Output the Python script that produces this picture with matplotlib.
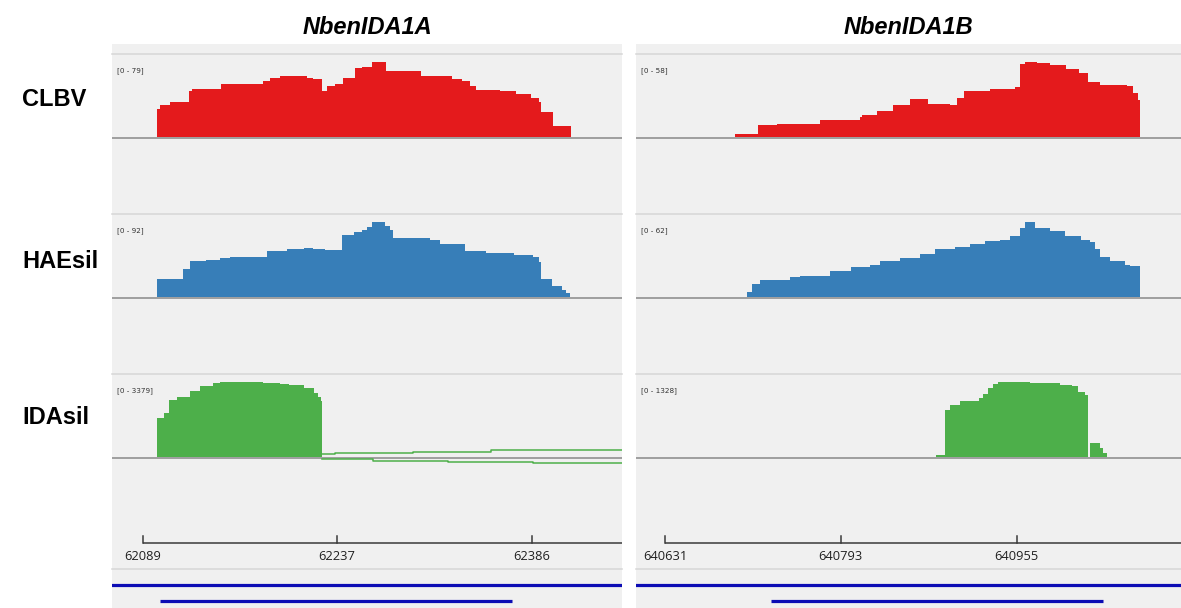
import numpy as np
import matplotlib
matplotlib.use("Agg")
import matplotlib.pyplot as plt
from matplotlib.patches import Rectangle
from matplotlib.lines import Line2D

W, H, DPI = 1181, 608, 100

# ---------------- data ----------------
gene_names = ["NbenIDA1A", "NbenIDA1B"]
sample_names = ["CLBV", "HAEsil", "IDAsil"]
sample_colors = ["#e41a1c", "#377eb8", "#4daf4a"]

# NbenIDA1A locus: coverage step profiles (segment starts, depth), plus end
a_clbv_pos = [62100, 62102, 62110, 62124, 62127, 62149, 62181, 62186, 62194, 62214,
              62219, 62226, 62230, 62236, 62242, 62251, 62256, 62264, 62275, 62301,
              62325, 62333, 62339, 62343, 62362, 62374, 62385, 62391, 62393, 62402]
a_clbv_cov = [29, 33, 36, 48, 50, 55, 58, 62, 64, 62,
              61, 48, 53, 55, 62, 72, 73, 79, 69, 64,
              61, 58, 53, 49, 48, 45, 41, 36, 26, 11]
a_clbv_end = 62416

a_hae_pos = [62100, 62120, 62125, 62137, 62148, 62156, 62163, 62184, 62199, 62212,
             62219, 62228, 62241, 62250, 62256, 62260, 62264, 62266, 62269, 62274,
             62278, 62280, 62308, 62316, 62335, 62351, 62372, 62387, 62391, 62393,
             62401, 62409, 62412]
a_hae_cov = [22, 34, 43, 45, 47, 48, 49, 56, 58, 59,
             58, 57, 75, 79, 81, 85, 91, 92, 91, 86,
             81, 72, 69, 64, 56, 53, 51, 49, 42, 22,
             13, 8, 4]
a_hae_end = 62415

a_ida_pos = [62100, 62105, 62109, 62115, 62125, 62133, 62143, 62148, 62181, 62194,
             62201, 62212, 62220, 62223, 62225]
a_ida_cov = [1757, 1955, 2523, 2703, 2973, 3154, 3307, 3379, 3307, 3275,
             3230, 3081, 2870, 2703, 2478]
a_ida_end = 62226

# IDAsil low-depth reads downstream of the silenced region
a_ida_fwd_pos = [62226, 62236, 62295, 62355]
a_ida_fwd_cov = [120, 180, 225, 300]
a_ida_rev_pos = [62226, 62265, 62322, 62387]
a_ida_rev_cov = [-117, -194, -252, -297]
a_ida_low_end = 62470

# NbenIDA1B locus
b_clbv_pos = [640696, 640717, 640734, 640774, 640811, 640813, 640826, 640841, 640857,
              640873, 640894, 640900, 640907, 640931, 640954, 640958, 640963, 640974,
              640986, 641001, 641013, 641021, 641032, 641057, 641062, 641067]
b_clbv_cov = [2, 9, 10, 13, 15, 17, 20, 24, 29,
              25, 24, 30, 35, 37, 38, 56, 58, 57,
              55, 52, 49, 42, 40, 39, 34, 28]
b_clbv_end = 641069

b_hae_pos = [640707, 640711, 640719, 640746, 640755, 640783, 640802, 640820, 640829,
             640848, 640866, 640880, 640898, 640912, 640926, 640940, 640949, 640958,
             640963, 640972, 640986, 641000, 641014, 641023, 641027, 641032, 641041,
             641055, 641060]
b_hae_cov = [4, 10, 14, 16, 17, 21, 24, 26, 29,
             32, 35, 39, 41, 43, 46, 47, 50, 57,
             62, 57, 54, 50, 47, 45, 39, 33, 29,
             26, 25]
b_hae_end = 641069

b_ida_pos = [640881, 640889, 640894, 640903, 640920, 640924, 640929, 640933, 640938,
             640967, 640995, 641006, 641012, 641018, 641021, 641023, 641032, 641035]
b_ida_cov = [27, 829, 919, 978, 1040, 1099, 1220, 1279, 1328,
             1297, 1270, 1249, 1141, 1087, 0, 240, 144, 70]
b_ida_end = 641038

# data range shown on each track
a_ranges = [79, 92, 3379]
b_ranges = [58, 62, 1328]

# ruler ticks
a_ticks = [62089, 62237, 62386]
b_ticks = [640631, 640793, 640955]

# visible window
a_view = (62065.6, 62454.7)
b_view = (640604.3, 641106.6)

# gene annotation: locus span and transcript span
a_locus = (61900, 62600)
a_transcript = (62102, 62371)
b_locus = (640400, 641300)
b_transcript = (640729, 641035)

# ---------------- figure ----------------
fig = plt.figure(figsize=(W / DPI, H / DPI), dpi=DPI, facecolor="white")


def px_axes(x0, y0, x1, y1):
    return fig.add_axes([x0 / W, 1 - y1 / H, (x1 - x0) / W, (y1 - y0) / H])


def fx(x):
    return x / W


def fy(y):
    return 1 - y / H


BG = "#f0f0f0"
SEP = "#d6d6d6"
BASE = "#9e9e9e"

panels = [
    dict(x0=112, x1=622, view=a_view, ticks=a_ticks, ranges=a_ranges,
         tracks=[(a_clbv_pos, a_clbv_cov, a_clbv_end),
                 (a_hae_pos, a_hae_cov, a_hae_end),
                 (a_ida_pos, a_ida_cov, a_ida_end)],
         locus=a_locus, transcript=a_transcript, title=gene_names[0], low=True),
    dict(x0=636, x1=1181, view=b_view, ticks=b_ticks, ranges=b_ranges,
         tracks=[(b_clbv_pos, b_clbv_cov, b_clbv_end),
                 (b_hae_pos, b_hae_cov, b_hae_end),
                 (b_ida_pos, b_ida_cov, b_ida_end)],
         locus=b_locus, transcript=b_transcript, title=gene_names[1], low=False),
]

track_tops = [54, 214, 374]
PEAK_PX = 75.0      # pixel height of the autoscaled maximum
ABOVE_PX = 80.0     # track axes height above baseline
BELOW_PX = 12.0     # room below baseline

for p in panels:
    x0, x1 = p["x0"], p["x1"]
    fig.add_artist(Rectangle((fx(x0), fy(608)), fx(x1 - x0), (608 - 44) / H,
                             transform=fig.transFigure, facecolor=BG,
                             edgecolor="none", zorder=0))
    for ys in track_tops + [569]:
        fig.add_artist(Line2D([fx(x0), fx(x1)], [fy(ys), fy(ys)],
                              transform=fig.transFigure, color=SEP, lw=1.1,
                              zorder=1))

    fig.text(fx((x0 + x1) / 2), fy(28), p["title"], ha="center", va="center",
             family="Liberation Sans", style="italic", weight="bold",
             fontsize=17)

    for i, (pos, cov, end) in enumerate(p["tracks"]):
        base = track_tops[i] + 82.5
        ax = px_axes(x0, base - ABOVE_PX, x1, base + BELOW_PX)
        ax.set_axis_off()
        r = p["ranges"][i]
        unit = r / PEAK_PX
        ax.set_xlim(*p["view"])
        ax.set_ylim(-BELOW_PX * unit, ABOVE_PX * unit)
        xs = np.append(np.asarray(pos, float), end)
        ys = np.append(np.asarray(cov, float), 0.0)
        ax.fill_between(xs, ys, 0, step="post", color=sample_colors[i],
                        lw=0, zorder=2)
        ax.axhline(-1.1 * unit, color=BASE, lw=1.4, zorder=1)
        if i == 2 and p["low"]:
            for lp, lc in ((a_ida_fwd_pos, a_ida_fwd_cov),
                           (a_ida_rev_pos, a_ida_rev_cov)):
                lx = np.append(np.asarray(lp, float), a_ida_low_end)
                ly = np.append(np.asarray(lc, float), lc[-1])
                ax.step(lx, ly, where="post", color=sample_colors[i],
                        lw=1.1, zorder=3)
        fig.text(fx(x0 + 5), fy(track_tops[i] + 17), f"[0 - {r}]",
                 ha="left", va="center", fontsize=5.2, color="#333333",
                 family="DejaVu Sans")

    # ruler
    rax = px_axes(x0, 536, x1, 543)
    rax.set_axis_off()
    rax.set_xlim(*p["view"])
    rax.set_ylim(0, 1)
    t = p["ticks"]
    rax.plot([t[0], p["view"][1]], [0, 0], color="#3a3a3a", lw=1.1,
             clip_on=False, solid_capstyle="butt")
    for tv in t:
        rax.plot([tv, tv], [0, 1], color="#3a3a3a", lw=1.1, clip_on=False)
        rax.text(tv, -1.95, f"{tv}", ha="center", va="center",
                 fontsize=9.3, family="Open Sans", color="#202020",
                 clip_on=False)

    # gene annotation
    gax = px_axes(x0, 575, x1, 608)
    gax.set_axis_off()
    gax.set_xlim(*p["view"])
    gax.set_ylim(33, 0)
    gax.plot(p["locus"], [10, 10], color="#0c0cb4", lw=2.3,
             solid_capstyle="butt")
    gax.plot(p["transcript"], [26, 26], color="#0c0cb4", lw=2.3,
             solid_capstyle="butt")

# sample labels
for name, yc in zip(sample_names, [100, 262, 418]):
    fig.text(fx(22), fy(yc), name, ha="left", va="center",
             family="Liberation Sans", weight="bold", fontsize=17)

fig.savefig("out.png", dpi=DPI, facecolor="white")
